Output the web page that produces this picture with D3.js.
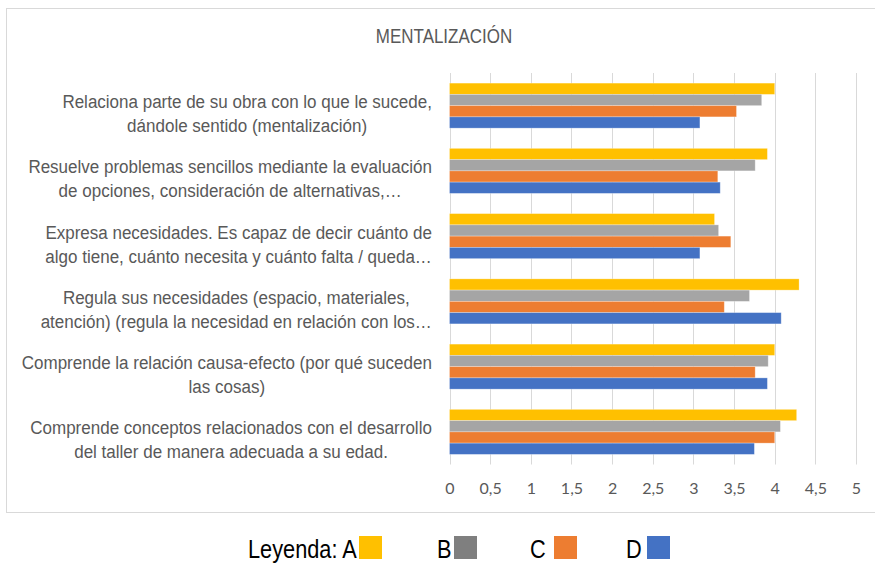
<!DOCTYPE html>
<html>
  <head>
    <meta charset="utf-8">
    <title></title>
    <style>
      body { margin: 0; background: #fff; }
      svg { display: block; }
      .grid line { stroke: #d9d9d9; stroke-width: 1; }
      .tick text { font: 16px Lato, sans-serif; fill: #595959; }
      .lbl { font: 18px "Liberation Sans", Arial, sans-serif; fill: #595959; }
    </style>
    <script src="https://cdnjs.cloudflare.com/ajax/libs/d3/7.8.5/d3.min.js"></script>
  </head>
  <body>
    <svg id="chart" width="875" height="563"></svg>
    <script>
var categories = [
  ["Relaciona parte de su obra con lo que le sucede,", "dándole sentido (mentalización)"],
  ["Resuelve problemas sencillos mediante la evaluación", "de opciones, consideración de alternativas,…"],
  ["Expresa necesidades. Es capaz de decir cuánto de", "algo tiene, cuánto necesita y cuánto falta / queda…"],
  ["Regula sus necesidades (espacio, materiales,", "atención) (regula la necesidad en relación con los…"],
  ["Comprende la relación causa-efecto (por qué suceden", "las cosas)"],
  ["Comprende conceptos relacionados con el desarrollo", "del taller de manera adecuada a su edad."]
];
var seriesNames = ["A", "B", "C", "D"];
var valuesA = [4.00, 3.91, 3.26, 4.30, 4.00, 4.27];
var valuesB = [3.84, 3.76, 3.31, 3.69, 3.92, 4.07];
var valuesC = [3.53, 3.30, 3.46, 3.38, 3.76, 4.00];
var valuesD = [3.08, 3.33, 3.08, 4.08, 3.91, 3.75];
var ticks = [0, 0.5, 1, 1.5, 2, 2.5, 3, 3.5, 4, 4.5, 5];
var title = "MENTALIZACIÓN";

var barColors = { A: "#ffc000", B: "#a5a5a5", C: "#ed7d31", D: "#4472c4" };
var legendColors = { A: "#ffc000", B: "#7f7f7f", C: "#ed7d31", D: "#4472c4" };
var allValues = [valuesA, valuesB, valuesC, valuesD];
var sx = 0.87;     // title / legend text is squeezed horizontally
var sxLbl = 0.945; // category labels a bit less so

var svg = d3.select("#chart");

// chart frame
svg.append("rect")
  .attr("x", 6.5).attr("y", 8.5).attr("width", 880).attr("height", 504)
  .attr("fill", "#fff").attr("stroke", "#d9d9d9").attr("stroke-width", 1);

var x = d3.scaleLinear().domain([0, 5]).range([449.5, 856]);
var y = d3.scaleBand().domain(d3.range(categories.length)).range([73, 464.5])
  .paddingInner(0.31).paddingOuter(0.155);
var ySub = d3.scaleBand().domain(seriesNames).range([0, y.bandwidth()]);

// gridlines
svg.append("g").attr("class", "grid")
  .selectAll("line").data(ticks).enter().append("line")
  .attr("x1", function(d){ return Math.round(x(d)) + 0.5; })
  .attr("x2", function(d){ return Math.round(x(d)) + 0.5; })
  .attr("y1", 73).attr("y2", 464.5);

// bars
var groups = svg.append("g").selectAll("g").data(categories).enter()
  .append("g").attr("transform", function(d, i){ return "translate(0," + y(i) + ")"; });
groups.selectAll("rect").data(function(d, i){
    return seriesNames.map(function(s, k){ return { s: s, v: allValues[k][i] }; });
  }).enter().append("rect")
  .attr("x", x(0))
  .attr("y", function(d){ return ySub(d.s); })
  .attr("width", function(d){ return x(d.v) - x(0); })
  .attr("height", ySub.bandwidth())
  .attr("fill", function(d){ return barColors[d.s]; })
  .attr("stroke", "#fff").attr("stroke-opacity", 0.35).attr("stroke-width", 0.8);

// x axis (labels only)
var xAxis = d3.axisBottom(x).tickValues(ticks).tickSize(0).tickPadding(0)
  .tickFormat(function(d){ return String(d).replace(".", ","); });
var ax = svg.append("g").attr("transform", "translate(0,483)").call(xAxis);
ax.select(".domain").remove();
ax.selectAll(".tick text").attr("dy", "0.71em");

// category labels: lines centered within a block right-aligned to x=432
categories.forEach(function(lines, i){
  var bc = y(i) + y.bandwidth() / 2;
  var g = svg.append("g");
  var texts = lines.map(function(t, j){
    return g.append("g").append("text").attr("class", "lbl")
      .attr("text-anchor", "middle").text(t);
  });
  var w = d3.max(texts, function(t){ return t.node().getComputedTextLength(); }) * sxLbl;
  var cx = 432 - w / 2;
  texts.forEach(function(t, j){
    d3.select(t.node().parentNode)
      .attr("transform", "translate(" + cx + "," + (bc + 2.5 + j * 24) + ") scale(" + sxLbl + ",1)");
  });
});

// title
svg.append("g").attr("transform", "translate(444,43) scale(" + sx + ",1)")
  .append("text").attr("class", "lbl").attr("text-anchor", "middle")
  .style("font-size", "19.5px").text(title);

// legend below the frame
var legend = svg.append("g");
var legendText = ["Leyenda: A", "B", "C", "D"];
var legendTextX = [248, 437, 530, 626];
var legendBoxX = [359, 454, 554, 647];
seriesNames.forEach(function(s, k){
  legend.append("g").attr("transform", "translate(" + legendTextX[k] + ",558) scale(" + sx + ",1)")
    .append("text").style("font", "25px 'Liberation Sans', Arial, sans-serif")
    .attr("fill", "#000").text(legendText[k]);
  legend.append("rect").attr("x", legendBoxX[k]).attr("y", 536)
    .attr("width", 23).attr("height", 23).attr("fill", legendColors[s]);
});
    </script>
  </body>
</html>
